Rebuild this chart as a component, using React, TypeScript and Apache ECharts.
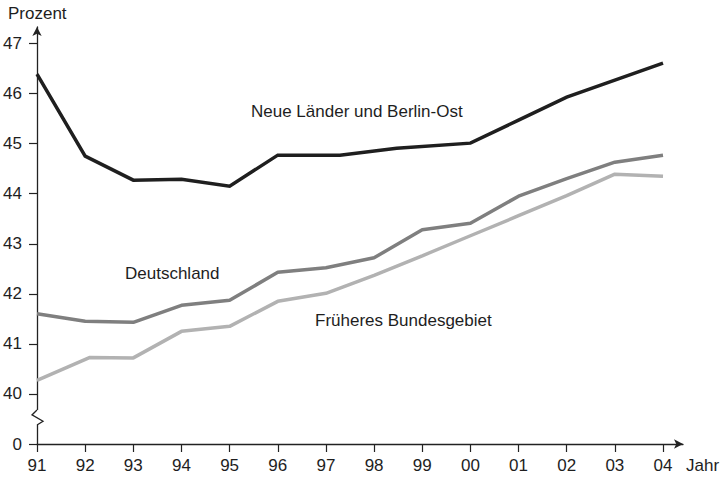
import React, { useEffect, useRef } from "react";
import * as echarts from "echarts";

// Tick labels
const yearTicks = [1991, 1992, 1993, 1994, 1995, 1996, 1997, 1998, 1999, 2000, 2001, 2002, 2003, 2004];
const valueTicks = [39, 40, 41, 42, 43, 44, 45, 46, 47]; // 39 is shown as "0" (axis break)

// Series: Neue Länder und Berlin-Ost
const neueYears = [1991, 1992, 1993, 1994, 1995, 1996, 1997.29, 1998.47, 2000, 2001, 2002, 2003, 2004];
const neueValues = [46.39, 44.75, 44.27, 44.29, 44.15, 44.77, 44.77, 44.91, 45.01, 45.47, 45.93, 46.27, 46.61];

// Series: Deutschland
const deYears = [1991, 1992, 1993, 1994, 1995, 1996, 1997, 1998, 1999, 2000, 2001, 2002, 2003, 2004];
const deValues = [41.6, 41.45, 41.43, 41.77, 41.87, 42.43, 42.52, 42.72, 43.28, 43.41, 43.95, 44.3, 44.63, 44.77];

// Series: Früheres Bundesgebiet
const fbYears = [1991, 1992.1, 1993, 1994, 1995, 1996, 1997, 1998, 1999, 2000, 2001, 2002, 2003, 2004];
const fbValues = [40.27, 40.73, 40.72, 41.25, 41.35, 41.85, 42.01, 42.37, 42.76, 43.16, 43.56, 43.96, 44.39, 44.35];

const seriesNames = ["Neue Länder und Berlin-Ost", "Deutschland", "Früheres Bundesgebiet"];

const pairs = (xs: number[], ys: number[]) => xs.map((x, i) => [x, ys[i]]);

export default function App() {
  const ref = useRef<HTMLDivElement>(null);
  useEffect(() => {
    if (!ref.current) return;
    const chart = echarts.init(ref.current, undefined, { renderer: "svg" });
    const font = "'Liberation Sans', Arial, sans-serif";
    const txt = "#1e1e1e";
    const axisColor = "#222";
    const G = { left: 37, right: 37, top: 27, bottom: 37 };
    const yMin = 39, yMax = 47.33;
    const plotH = 481 - G.top - G.bottom;
    const yPix = (v: number) => G.top + ((yMax - v) / (yMax - yMin)) * plotH;
    const axX = G.left;
    const zTop = yPix(39.68);
    const zBot = yPix(39.38);
    const zMid1 = zTop + (zBot - zTop) * 0.33;
    const zMid2 = zTop + (zBot - zTop) * 0.75;
    chart.setOption({
      animation: false,
      backgroundColor: "#fff",
      grid: G,
      xAxis: {
        type: "value",
        min: 1991,
        max: 2004.415,
        splitLine: { show: false },
        axisLine: { show: true, lineStyle: { color: axisColor, width: 1.3 }, symbol: ["none", "arrow"], symbolSize: [7, 9] },
        axisTick: { show: true, length: 8, lineStyle: { color: axisColor, width: 1.2 }, customValues: yearTicks },
        axisLabel: {
          customValues: yearTicks,
          margin: 13,
          fontSize: 17,
          fontFamily: font,
          color: txt,
          formatter: (v: number) => String(Math.round(v) % 100).padStart(2, "0"),
        },
      },
      yAxis: {
        type: "value",
        min: yMin,
        max: yMax,
        splitLine: { show: false },
        axisLine: { show: true, lineStyle: { color: axisColor, width: 1.3 }, symbol: ["none", "arrow"], symbolSize: [7, 9] },
        axisTick: { show: true, length: 8, lineStyle: { color: axisColor, width: 1.2 }, customValues: valueTicks },
        axisLabel: {
          customValues: valueTicks,
          margin: 15,
          fontSize: 17,
          fontFamily: font,
          color: txt,
          formatter: (v: number) => (Math.round(v) === 39 ? "0" : String(Math.round(v))),
        },
      },
      series: [
        {
          name: seriesNames[0],
          type: "line",
          data: pairs(neueYears, neueValues),
          symbol: "none",
          lineStyle: { color: "#1f1f1f", width: 3.5, join: "miter" },
          z: 3,
        },
        {
          name: seriesNames[1],
          type: "line",
          data: pairs(deYears, deValues),
          symbol: "none",
          lineStyle: { color: "#7f7f7f", width: 3.5 },
          z: 2,
        },
        {
          name: seriesNames[2],
          type: "line",
          data: pairs(fbYears, fbValues),
          symbol: "none",
          lineStyle: { color: "#b2b2b2", width: 3.5 },
          z: 1,
        },
      ],
      graphic: [
        { type: "rect", shape: { x: axX - 3, y: zTop, width: 6, height: zBot - zTop }, style: { fill: "#fff" }, z: 100 },
        {
          type: "polyline",
          shape: { points: [[axX, zTop], [axX - 5, zMid1], [axX + 6, zMid2], [axX, zBot]] },
          style: { stroke: axisColor, lineWidth: 1.3, fill: "none" },
          z: 101,
        },
        { type: "text", left: 8, top: 5, style: { text: "Prozent", font: `17px ${font}`, fill: txt }, z: 50 },
        { type: "text", left: 686, top: 457, style: { text: "Jahr", font: `17px ${font}`, fill: txt }, z: 50 },
        { type: "text", left: 251, top: 103, style: { text: seriesNames[0], font: `17px ${font}`, fill: txt }, z: 50 },
        { type: "text", left: 125, top: 265, style: { text: seriesNames[1], font: `17px ${font}`, fill: txt }, z: 50 },
        { type: "text", left: 315, top: 312, style: { text: seriesNames[2], font: `17px ${font}`, fill: txt }, z: 50 },
      ],
    });
    return () => chart.dispose();
  }, []);
  return (
    <div
      ref={ref}
      style={{ position: "fixed", left: 0, top: 0, width: 720, height: 481, background: "#fff" }}
    />
  );
}
